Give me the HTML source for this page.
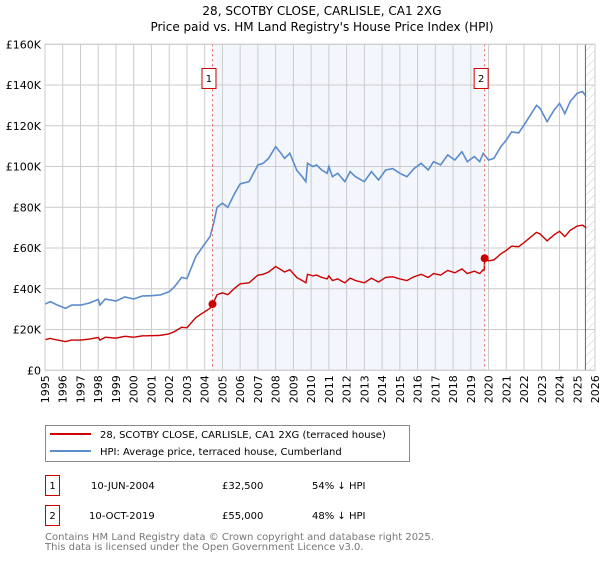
<!DOCTYPE html>
<html><head><meta charset="utf-8"><style>
body{margin:0;background:#fff;}
svg{font-family:"DejaVu Sans","Liberation Sans",sans-serif;}
</style></head><body>
<svg id="c" width="600" height="560" viewBox="0 0 600 560">
<defs><pattern id="hatch" width="6" height="6" patternUnits="userSpaceOnUse" patternTransform="rotate(45)"><line x1="0" y1="0" x2="0" y2="6" stroke="#ccc" stroke-width="1"/></pattern></defs>
<text x="322" y="15" text-anchor="middle" font-size="12">28, SCOTBY CLOSE, CARLISLE, CA1 2XG</text>
<text x="322" y="31" text-anchor="middle" font-size="12">Price paid vs. HM Land Registry's House Price Index (HPI)</text>
<g id="plot"></g>
<g>
<rect x="45.5" y="425.5" width="364" height="36" fill="#fff" stroke="#888"/>
<line x1="50" y1="434" x2="91" y2="434" stroke="#cc0000" stroke-width="2"/>
<text x="100" y="438" font-size="10">28, SCOTBY CLOSE, CARLISLE, CA1 2XG (terraced house)</text>
<line x1="50" y1="451" x2="91" y2="451" stroke="#5b8ccc" stroke-width="2"/>
<text x="100" y="455" font-size="10">HPI: Average price, terraced house, Cumberland</text>
</g>
<g font-size="10">
<rect x="45.5" y="475.5" width="14" height="20" fill="#fff" stroke="#cc0000"/><text x="52.5" y="489" text-anchor="middle">1</text>
<text x="91" y="489">10-JUN-2004</text><text x="222" y="489">£32,500</text><text x="312" y="489">54% ↓ HPI</text>
<rect x="45.5" y="505.5" width="14" height="20" fill="#fff" stroke="#cc0000"/><text x="52.5" y="519" text-anchor="middle">2</text>
<text x="89" y="519">10-OCT-2019</text><text x="222" y="519">£55,000</text><text x="312" y="519">48% ↓ HPI</text>
</g>
<text x="45" y="540" font-size="10" fill="#777">Contains HM Land Registry data © Crown copyright and database right 2025.</text>
<text x="45" y="550" font-size="10" fill="#777">This data is licensed under the Open Government Licence v3.0.</text>
</svg>
<script>
const hpiYears=[1995,1995.3,1995.7,1996,1996.15,1996.5,1997,1997.5,1998,1998.1,1998.4,1999,1999.5,2000,2000.5,2001,2001.5,2002,2002.3,2002.7,2003,2003.5,2004,2004.3,2004.5,2004.7,2005,2005.3,2005.7,2006,2006.5,2007,2007.3,2007.6,2008,2008.3,2008.5,2008.8,2009.2,2009.5,2009.7,2009.8,2010.1,2010.3,2010.6,2010.9,2011,2011.2,2011.5,2011.9,2012.2,2012.5,2013,2013.4,2013.8,2014.2,2014.6,2015,2015.4,2015.8,2016.2,2016.6,2016.9,2017.3,2017.7,2018.1,2018.5,2018.8,2019.2,2019.5,2019.7,2020,2020.3,2020.7,2021,2021.3,2021.7,2022,2022.3,2022.7,2022.9,2023.3,2023.7,2024,2024.3,2024.6,2025,2025.3,2025.5];
const hpiValues=[32.5,33.7,32,31,30.4,32,32,33,34.8,32,35,34,36,35,36.5,36.6,37,38.6,41,45.6,45,55.8,62,65.6,72,80,82,80,87,91.5,92.6,100.8,101.6,104,109.8,106.5,104,106.5,98,95,92.6,101.6,100,100.8,98.3,96.7,100,95,96.7,92.6,97.5,95,92.6,97.5,93.4,98.3,99,96.7,95,99,101.6,98.3,102.4,100.8,105.7,103.2,107.3,102.4,104.9,102.4,106.5,103.2,104,109.8,113,117,116.5,120.4,124.5,130,128.6,122,127.8,131,126,131.9,136,136.8,134.3];
const saleYears=[2004.44,2019.78];
const salePrices=[32.5,55];
const saleLabels=["1","2"];
const yTicks=[0,20,40,60,80,100,120,140,160];
const yTickLabels=["£0","£20K","£40K","£60K","£80K","£100K","£120K","£140K","£160K"];
const xTicks=[];for(let y=1995;y<=2026;y++)xTicks.push(y);

const X0=45,X1=595,Y0=370.3,Y1=44.3;
const xs=y=>X0+(y-1995)/31*(X1-X0);
const ys=v=>Y0-v/160*(Y0-Y1);
const NS="http://www.w3.org/2000/svg";
const g=document.getElementById('plot');
function mk(t,a){const e=document.createElementNS(NS,t);for(const k in a)e.setAttribute(k,a[k]);g.appendChild(e);return e;}
function hpiAt(t){for(let i=0;i<hpiYears.length-1;i++){if(t>=hpiYears[i]&&t<=hpiYears[i+1]){const f=(t-hpiYears[i])/(hpiYears[i+1]-hpiYears[i]);return hpiValues[i]+f*(hpiValues[i+1]-hpiValues[i]);}}return t<hpiYears[0]?hpiValues[0]:hpiValues[hpiValues.length-1];}

let e=mk('rect',{x:xs(saleYears[0]),y:Y1,width:xs(saleYears[1])-xs(saleYears[0]),height:Y0-Y1,fill:'#eef3fc',opacity:0.7});


e=mk('rect',{x:xs(2025.46),y:Y1,width:X1-xs(2025.46),height:Y0-Y1,fill:'url(#hatch)'});


yTicks.forEach((v,i)=>{
 let l=mk('line',{x1:X0,x2:X1,y1:ys(v),y2:ys(v),stroke:'#ccc'});
 
 
 let t=mk('text',{x:X0-4,y:ys(v)+4,'text-anchor':'end','font-size':11});t.textContent=yTickLabels[i];
 
 
});
xTicks.forEach(y=>{
 let l=mk('line',{x1:xs(y),x2:xs(y),y1:Y1,y2:Y0,stroke:'#ccc'});
 
 
 let t=mk('text',{transform:`translate(${xs(y)+4},${Y0+5}) rotate(-90)`,'text-anchor':'end','font-size':11});t.textContent=y;
 
 
});
e=mk('line',{x1:xs(2025.46),x2:xs(2025.46),y1:Y1,y2:Y0,stroke:'#666'});


// red series: property value indexed by HPI from each sale
const steps=[];for(let t=1995;t<=2025.5;t+=0.02)steps.push(+t.toFixed(2));
let hp='',rp='';
steps.forEach((t,i)=>{
 const h=hpiAt(t);
 const si=t>=saleYears[1]?1:0;
 const r=salePrices[si]/hpiAt(saleYears[si])*h;
 hp+=(i?'L':'M')+xs(t).toFixed(1)+','+ys(h).toFixed(1);
 rp+=(i?'L':'M')+xs(t).toFixed(1)+','+ys(r).toFixed(1);
});
e=mk('path',{d:hp,fill:'none',stroke:'#5b8ccc','stroke-width':1.6});


e=mk('path',{d:rp,fill:'none',stroke:'#cc0000','stroke-width':1.4});


saleYears.forEach((y,i)=>{
 let l=mk('line',{x1:xs(y),x2:xs(y),y1:Y1,y2:Y0,stroke:'#e06060','stroke-dasharray':'2,3'});
 
 
 let c=mk('circle',{cx:xs(y),cy:ys(salePrices[i]),r:4,fill:'#cc0000'});
 
 
 let b=mk('rect',{x:xs(y)-10.5,y:68.5,width:14,height:20,fill:'#fff',stroke:'#cc0000'});
 
 
 let t=mk('text',{x:xs(y)-3.5,y:82,'text-anchor':'middle','font-size':10});t.textContent=saleLabels[i];
 
 
});
e=mk('rect',{x:X0,y:Y1,width:X1-X0,height:Y0-Y1,fill:'none',stroke:'#ccc'});


</script>
</body></html>
